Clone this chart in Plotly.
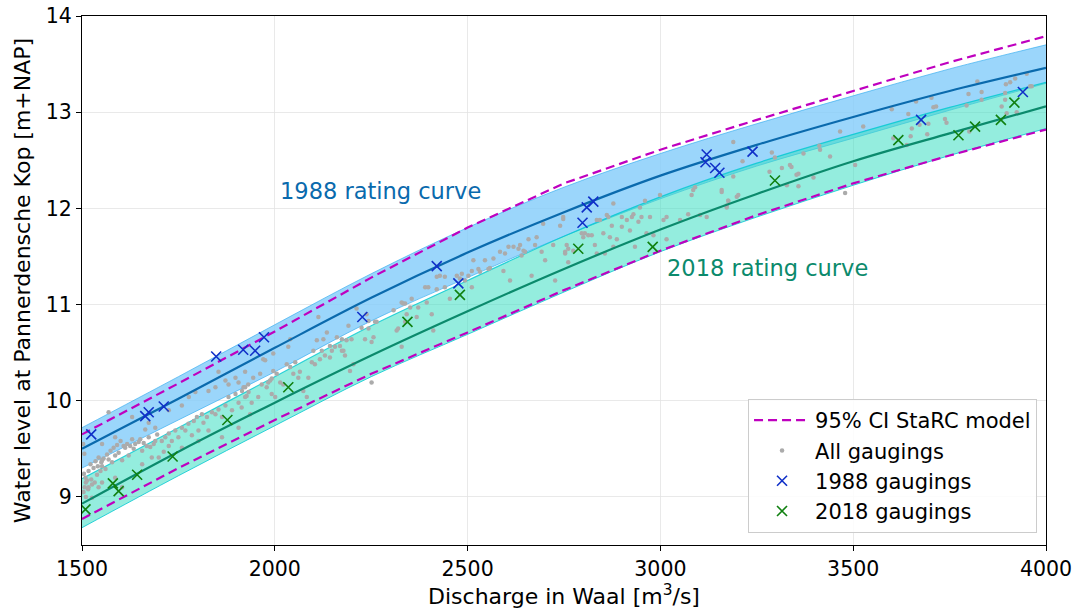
import plotly.graph_objects as go

# ---- rating curves (read at 250 m3/s steps) ----
q_grid = [1500, 1750, 2000, 2250, 2500, 2750, 3000, 3250, 3500, 3750, 4000]
h_1988 = [9.50, 10.02, 10.55, 11.07, 11.54, 11.96, 12.34, 12.66, 12.95, 13.22, 13.46]
h_1988_up = [9.72, 10.25, 10.79, 11.32, 11.80, 12.22, 12.57, 12.88, 13.17, 13.45, 13.70]
h_1988_lo = [9.30, 9.80, 10.30, 10.83, 11.28, 11.71, 12.10, 12.44, 12.73, 13.02, 13.30]
h_2018 = [8.93, 9.47, 9.98, 10.47, 10.93, 11.37, 11.78, 12.15, 12.49, 12.78, 13.06]
h_2018_up = [9.19, 9.72, 10.25, 10.78, 11.25, 11.71, 12.12, 12.47, 12.77, 13.05, 13.31]
h_2018_lo = [8.68, 9.22, 9.74, 10.25, 10.69, 11.13, 11.55, 11.91, 12.24, 12.55, 12.83]
h_ci_up = [9.65, 10.18, 10.72, 11.28, 11.80, 12.26, 12.61, 12.92, 13.22, 13.52, 13.79]
h_ci_lo = [8.77, 9.30, 9.80, 10.28, 10.71, 11.15, 11.56, 11.93, 12.26, 12.55, 12.82]

# ---- all gaugings ----
all_q = [
    1503, 1506, 1504, 1510, 1505, 1509, 1513, 1517, 1522, 1526, 1530, 1535, 1539, 1543, 1548, 1552,
    1507, 1516, 1524, 1533, 1541, 1550, 1556, 1561, 1565, 1569, 1574, 1578, 1582, 1586, 1591, 1595, 1600, 1604, 1608, 1612,
    1617, 1621, 1625, 1630, 1634, 1638, 1647, 1651, 1656, 1660, 1664, 1668, 1673, 1677, 1681, 1686, 1690, 1695, 1707, 1712,
    1716, 1725, 1733, 1742, 1750, 1759, 1768, 1776, 1785, 1790, 1798, 1802, 1811, 1815, 1824, 1828, 1837, 1846, 1854, 1863,
    1872, 1880, 1889, 1898, 1906, 1915, 1923, 1932,
    1569, 1552, 1586, 1630, 1673, 1690, 1725, 1759, 1777, 1794, 1828, 1846, 1854, 1872, 1880, 1898, 1906, 1923, 1725, 1552, 1517, 1510,
    1526, 1543, 1552, 1586, 1604, 1656, 1699, 1759, 1802, 1863, 1906,
    1919, 1927, 1923, 1944, 1957, 1962, 1966, 1970, 1975, 1979, 1983, 1988, 1992, 1992, 1996, 1996, 2005, 2001, 2014, 2022,
    2031, 2035, 2040, 2040, 2048, 2053, 2061, 2065, 2074, 2083, 2087, 2096, 2100, 2104, 2109, 2113, 2117, 2122, 2126, 2130,
    2135, 2143, 2143, 2148, 2156, 2161, 2169, 2174, 2174, 2178, 2182, 2186, 2191, 2195, 2199, 2204, 2212, 2225, 2234, 2238,
    2243, 2243, 2251, 2251, 2256, 2260, 2264, 2308, 2316, 2320, 2329, 2333, 2342, 2338, 1931, 1936, 1940, 1914,
    2329, 2338, 2351, 2355, 2368, 2372, 2390, 2394, 2398, 2407, 2411, 2420, 2420, 2428, 2441, 2441, 2454, 2472, 2480, 2485,
    2493, 2502, 2511, 2511, 2515, 2528, 2532, 2545, 2554, 2558, 2567, 2584, 2593, 2597, 2606, 2610, 2619, 2632, 2636, 2640,
    2645, 2649, 2658, 2666, 2675, 2679, 2692, 2696, 2701, 2722, 2740, 2748, 2753, 2757, 2761, 2727,
    2748, 2753, 2761, 2774, 2796, 2800, 2804, 2813, 2822, 2830, 2835, 2835, 2843, 2852, 2856, 2861, 2865, 2869, 2874, 2878,
    2878, 2887, 2900, 2900, 2913, 2921, 2926, 2930, 2934, 2943, 2947, 2951, 2960, 2964, 2973, 2982, 2999, 3008, 3016, 3016,
    3051, 3072, 3081, 3085, 3090, 3103, 3120, 3159, 3172, 3176,
    3159, 3172, 3176, 3189, 3189, 3198, 3202, 3213, 3289, 3297, 3283, 3315, 3328, 3336, 3340, 3353, 3358, 3358, 3371, 3397,
    3412, 3414, 3440, 3466, 3479, 3505, 3526,
    3600, 3604, 3639, 3643, 3649, 3652, 3663, 3672, 3692, 3695, 3703, 3708, 3715, 3738, 3742, 3794, 3799, 3801, 3822, 3833,
    3833, 3885, 3894, 3896, 3894, 3898, 3907, 3920, 3924, 3950, 3959, 3963,
]
all_h = [
    9.55, 9.45, 9.05, 9.00, 9.24, 9.20, 9.17, 9.27, 9.34, 9.13, 9.30, 9.37, 9.23, 9.41, 9.27, 9.32,
    9.10, 9.08, 9.18, 9.15, 9.32, 9.36, 9.40, 9.29, 9.44, 9.39, 9.48, 9.36, 9.51, 9.43, 9.54, 9.46, 9.58, 9.38, 9.53, 9.51,
    9.55, 9.43, 9.53, 9.60, 9.50, 9.55, 9.57, 9.60, 9.48, 9.56, 9.70, 9.53, 9.62, 9.52, 9.41, 9.55, 9.58, 9.65, 9.58, 9.47,
    9.62, 9.66, 9.58, 9.69, 9.62, 9.72, 9.69, 9.76, 9.64, 9.79, 9.83, 9.69, 9.86, 9.77, 9.83, 9.69, 9.88, 9.86, 9.91, 9.83,
    9.95, 10.04, 9.90, 10.07, 9.98, 10.10, 10.14, 10.09,
    9.88, 9.55, 9.62, 9.83, 9.77, 9.72, 9.90, 9.95, 10.04, 10.09, 10.10, 10.14, 10.30, 10.21, 10.17, 10.24, 10.19, 10.30, 9.53, 9.38, 9.10, 9.15,
    8.99, 9.10, 9.15, 9.20, 9.10, 9.34, 9.41, 9.51, 9.58, 9.62, 9.72,
    10.14, 10.05, 10.04, 10.24, 10.04, 10.28, 10.17, 10.43, 10.42, 10.14, 10.19, 10.21, 10.23, 10.07, 10.49, 10.31, 10.28, 10.04, 10.19, 10.17,
    10.38, 10.56, 10.64, 10.35, 10.28, 10.40, 10.24, 10.30, 10.10, 10.04, 10.24, 10.40, 10.52, 10.38, 10.63, 10.87, 10.43, 10.52, 10.64, 10.47,
    10.71, 10.45, 10.57, 10.52, 10.56, 10.66, 10.57, 10.52, 10.64, 10.52, 10.47, 10.63, 10.78, 10.31, 10.64, 10.38, 10.96, 10.76, 10.64, 10.90,
    10.83, 10.75, 10.61, 10.19, 10.66, 10.82, 10.82, 10.94, 10.73, 10.75, 10.56, 11.01, 10.90, 10.82, 10.17, 9.86, 9.98, 9.93,
    11.02, 11.01, 10.97, 11.06, 10.87, 10.97, 11.18, 11.02, 11.18, 10.90, 10.73, 11.29, 11.16, 11.30, 11.29, 11.18, 11.06, 11.30, 11.27, 11.32,
    11.25, 11.30, 11.35, 11.18, 11.46, 11.37, 11.34, 11.46, 11.37, 11.38, 11.48, 11.55, 11.35, 11.53, 11.60, 11.25, 11.60, 11.58, 11.62, 11.51,
    11.56, 11.55, 11.68, 11.30, 11.62, 11.70, 11.55, 11.84, 11.46, 11.62, 11.82, 11.89, 11.53, 11.62, 11.44, 11.25,
    11.91, 11.55, 11.58, 11.56, 11.74, 11.70, 11.74, 11.72, 11.72, 11.62, 11.88, 11.53, 11.88, 11.74, 11.53, 11.93, 11.91, 11.70, 11.82, 12.05,
    11.60, 11.68, 11.91, 11.81, 11.88, 11.77, 11.91, 11.94, 11.60, 11.86, 12.01, 11.91, 12.08, 11.74, 11.91, 11.72, 12.14, 11.88, 11.91, 11.68,
    11.88, 11.94, 12.14, 12.19, 12.22, 11.93, 11.91, 12.17, 12.01, 12.08,
    12.19, 12.03, 12.08, 12.69, 12.33, 12.12, 12.14, 12.49, 12.58, 12.53, 12.38, 12.42, 12.24, 12.45, 12.43, 12.35, 12.36, 12.23, 12.57, 12.32,
    12.65, 12.61, 12.54, 12.80, 12.16, 12.45, 12.85,
    13.03, 12.73, 12.66, 12.98, 12.75, 12.83, 13.11, 12.87, 12.77, 12.88, 13.15, 13.05, 13.06, 12.93, 12.89, 13.07, 13.19, 12.80, 13.32, 13.21,
    13.13, 13.06, 13.13, 13.29, 13.20, 12.99, 13.31, 13.35, 13.00, 13.40, 13.27, 13.27,
]
assert len(all_q) == len(all_h), (len(all_q), len(all_h))

# ---- 1988 and 2018 gaugings ----
q_g1988 = [1524, 1664, 1673, 1712, 1848, 1918, 1949, 1972, 2227, 2420, 2476, 2798, 2809, 2826,
           3117, 3120, 3142, 3153, 3239, 3676, 3940]
h_g1988 = [9.65, 9.84, 9.88, 9.94, 10.46, 10.53, 10.52, 10.66, 10.87, 11.40, 11.22, 11.85, 12.01, 12.07,
           12.48, 12.56, 12.42, 12.37, 12.59, 12.92, 13.21]
q_g2018 = [1509, 1580, 1595, 1643, 1735, 1877, 2035, 2344, 2480, 2787, 2980, 3297, 3617, 3773, 3816, 3883, 3918]
h_g2018 = [8.87, 9.14, 9.06, 9.23, 9.42, 9.80, 10.14, 10.82, 11.10, 11.58, 11.60, 12.29, 12.71, 12.76, 12.85, 12.92, 13.10]

x_ticks = [1500, 2000, 2500, 3000, 3500, 4000]
y_ticks = [9, 10, 11, 12, 13, 14]

C1988 = "#0a6aad"
C2018 = "#0b8a6c"
FONT = "DejaVu Sans"

fig = go.Figure()

# 1988 band
fig.add_trace(go.Scatter(x=q_grid, y=h_1988_lo, mode="lines", line=dict(color="rgba(60,175,240,0.7)", width=1, shape="spline"),
                         showlegend=False, hoverinfo="skip"))
fig.add_trace(go.Scatter(x=q_grid, y=h_1988_up, mode="lines", fill="tonexty", fillcolor="rgba(130,204,250,0.8)",
                         line=dict(color="rgba(60,175,240,0.7)", width=1, shape="spline"), showlegend=False, hoverinfo="skip"))
# 2018 band
fig.add_trace(go.Scatter(x=q_grid, y=h_2018_lo, mode="lines", line=dict(color="rgba(0,200,210,0.8)", width=1, shape="spline"),
                         showlegend=False, hoverinfo="skip"))
fig.add_trace(go.Scatter(x=q_grid, y=h_2018_up, mode="lines", fill="tonexty", fillcolor="rgba(60,222,195,0.55)",
                         line=dict(color="rgba(0,200,210,0.8)", width=1.2, shape="spline"), showlegend=False, hoverinfo="skip"))

# all gaugings
fig.add_trace(go.Scatter(x=all_q, y=all_h, mode="markers", name="All gaugings", legendrank=2, legendgroup="b",
                         marker=dict(color="#ababab", size=4.5, line=dict(width=0))))

# rating curves
fig.add_trace(go.Scatter(x=q_grid, y=h_1988, mode="lines", line=dict(color=C1988, width=2.2, shape="spline"),
                         showlegend=False))
fig.add_trace(go.Scatter(x=q_grid, y=h_2018, mode="lines", line=dict(color=C2018, width=2.2, shape="spline"),
                         showlegend=False))

# 95% CI
fig.add_trace(go.Scatter(x=q_grid, y=h_ci_up, mode="lines", name="95% CI StaRC model", legendrank=1, legendgroup="a",
                         line=dict(color="#bf00bf", width=2.2, dash="9px,5px")))
fig.add_trace(go.Scatter(x=q_grid, y=h_ci_lo, mode="lines", showlegend=False, legendgroup="a",
                         line=dict(color="#bf00bf", width=2.2, dash="9px,5px")))

# gaugings
fig.add_trace(go.Scatter(x=q_g1988, y=h_g1988, mode="markers", name="1988 gaugings", legendrank=3, legendgroup="c",
                         marker=dict(symbol="x-thin", size=10, line=dict(color="#1030c8", width=1.6), color="#1030c8")))
fig.add_trace(go.Scatter(x=q_g2018, y=h_g2018, mode="markers", name="2018 gaugings", legendrank=4, legendgroup="d",
                         marker=dict(symbol="x-thin", size=10, line=dict(color="#108010", width=1.6), color="#108010")))

fig.add_annotation(x=2008, y=12.18, text="1988 rating curve", showarrow=False, xanchor="left", yanchor="middle",
                   font=dict(family=FONT, size=22.5, color=C1988))
fig.add_annotation(x=3012, y=11.375, text="2018 rating curve", showarrow=False, xanchor="left", yanchor="middle",
                   font=dict(family=FONT, size=22.5, color=C2018))

axis_common = dict(showline=True, linecolor="black", linewidth=1.3, mirror=True, ticks="outside", ticklen=5,
                   tickwidth=1.3, tickcolor="black", showgrid=True, gridcolor="rgba(225,225,225,0.75)", gridwidth=1,
                   zeroline=False, layer="above traces",
                   automargin=False, tickfont=dict(family=FONT, size=20.5, color="black"))

fig.update_xaxes(range=[1500, 4000], tickvals=x_ticks, ticktext=[str(v) for v in x_ticks],
                 title=dict(text="Discharge in Waal [m<sup>3</sup>/s]", font=dict(family=FONT, size=22, color="black"), standoff=8),
                 **axis_common)
fig.update_yaxes(range=[8.5, 14], tickvals=y_ticks, ticktext=[str(v) for v in y_ticks],
                 title=dict(text="Water level at Pannerdensche Kop [m+NAP]", font=dict(family=FONT, size=22, color="black"), standoff=8),
                 **axis_common)

fig.update_layout(
    width=1078, height=611,
    margin=dict(l=82, r=32, t=16, b=66, autoexpand=False),
    paper_bgcolor="white", plot_bgcolor="white",
    font=dict(family=FONT, color="black"),
    legend=dict(x=0.9907, y=0.0227, xanchor="right", yanchor="bottom", bgcolor="rgba(255,255,255,0.85)",
                bordercolor="#cccccc", borderwidth=1, font=dict(family=FONT, size=21, color="black"),
                traceorder="normal", tracegroupgap=2, itemwidth=56),
)

fig.write_html("out.html")
